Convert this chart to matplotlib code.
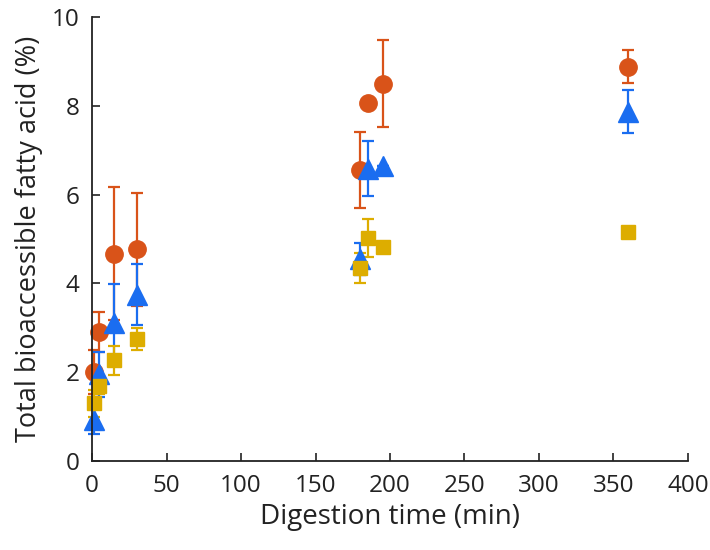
import matplotlib
matplotlib.use("Agg")
import matplotlib.pyplot as plt

plt.rcParams['font.family'] = ['Open Sans', 'DejaVu Sans']

# digestion times (min)
time = [1, 5, 15, 30, 180, 185, 195, 360]

# orange circles
orange_y = [2.0, 2.9, 4.67, 4.77, 6.55, 8.07, 8.5, 8.88]
orange_err = [0.5, 0.45, 1.5, 1.27, 0.85, 0.0, 0.98, 0.37]

# blue triangles
blue_y = [0.92, 1.95, 3.1, 3.75, 4.55, 6.58, 6.65, 7.87]
blue_err = [0.32, 0.5, 0.88, 0.68, 0.35, 0.62, 0.0, 0.48]

# yellow squares
yellow_y = [1.3, 1.7, 2.27, 2.75, 4.35, 5.02, 4.83, 5.15]
yellow_err = [0.3, 0.2, 0.33, 0.25, 0.33, 0.43, 0.1, 0.1]

fig = plt.figure(figsize=(7.1, 5.5), dpi=100)
ax = fig.add_axes([0.1296, 0.1618, 0.8394, 0.8072])

style = dict(elinewidth=1.6, capsize=4, capthick=1.6, clip_on=False)
ax.errorbar(time, orange_y, yerr=orange_err, fmt='o', color='#D95319',
            markersize=12.5, **style)
ax.errorbar(time, blue_y, yerr=blue_err, fmt='^', color='#1A6DF0',
            markersize=14, **style)
ax.errorbar(time, yellow_y, yerr=yellow_err, fmt='s', color='#DDAD00',
            markersize=10, **style)

ax.set_xlim(0, 400)
ax.set_ylim(0, 10)
ax.set_xticks(range(0, 401, 50))
ax.set_yticks(range(0, 11, 2))
ax.spines['top'].set_visible(False)
ax.spines['right'].set_visible(False)
for s in ['left', 'bottom']:
    ax.spines[s].set_linewidth(1.3)
    ax.spines[s].set_color('#222222')
ax.tick_params(direction='in', length=6, width=1.2, labelsize=17.5,
               colors='#222222', pad=9)
ax.set_xlabel('Digestion time (min)', fontsize=20, color='#222222', labelpad=4)
ax.set_ylabel('Total bioaccessible fatty acid (%)', fontsize=19.5,
              color='#222222', labelpad=6)

fig.savefig('out.png', dpi=100)
